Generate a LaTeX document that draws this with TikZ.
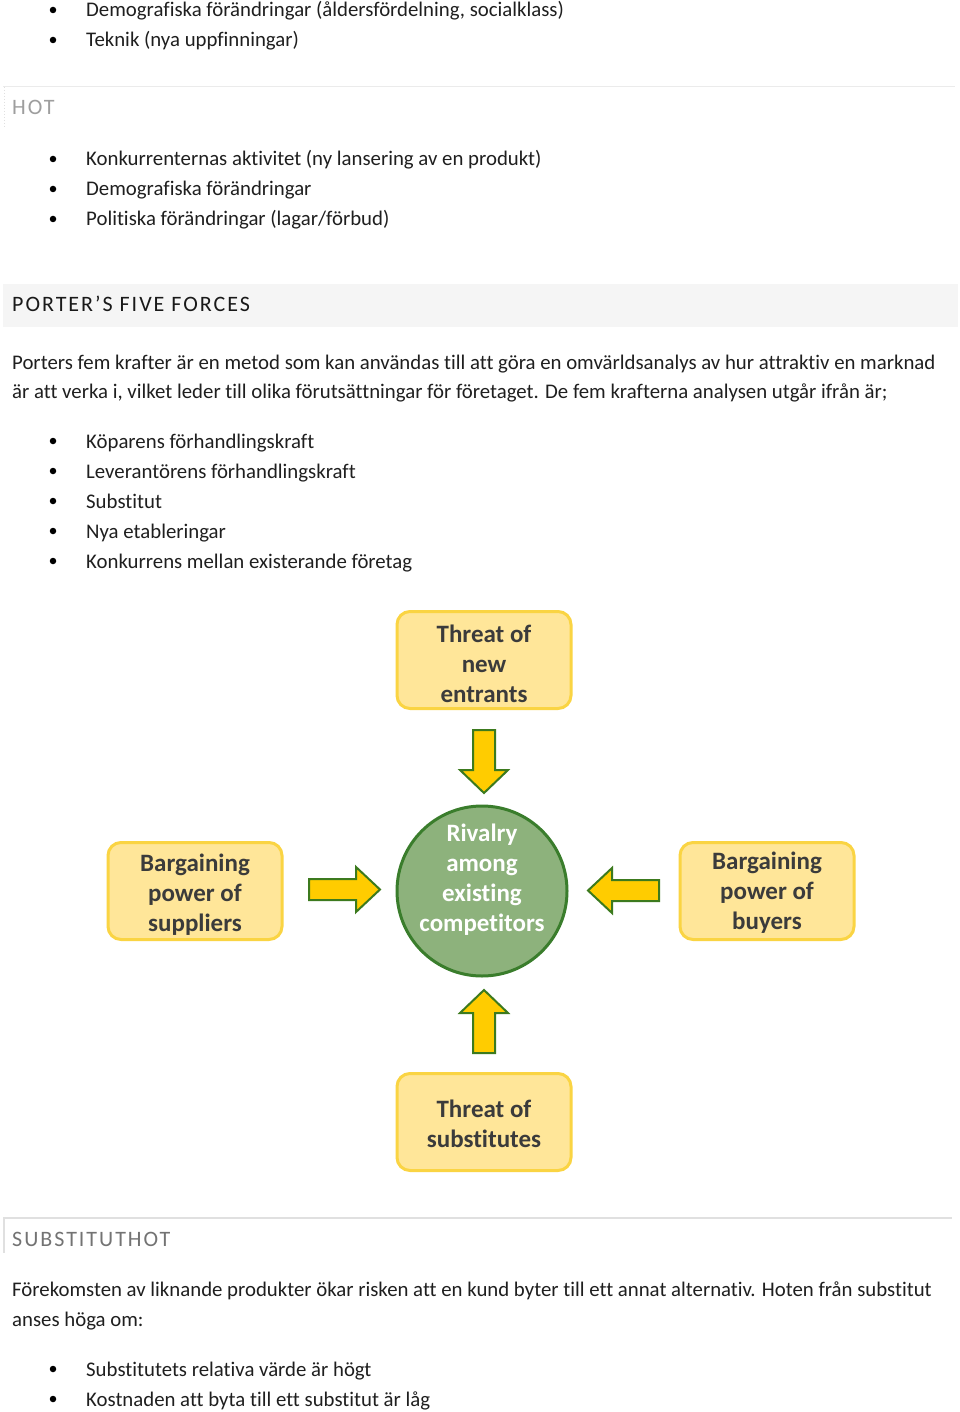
\documentclass[tikz,border=0pt]{standalone}
\usepackage{fontspec}
\setmainfont{Carlito}[Ligatures=NoCommon]
\newfontfamily\headfont[LetterSpace=9]{Carlito}
\definecolor{boxfill}{HTML}{FFE699}
\definecolor{boxline}{HTML}{FAD443}
\definecolor{darktext}{HTML}{3B3B3B}
\definecolor{arrowfill}{HTML}{FFCC00}
\definecolor{arrowline}{HTML}{3C7A1E}
\definecolor{circfill}{HTML}{8DB27C}
\definecolor{circline}{HTML}{3A7D2C}
\begin{document}
\begin{tikzpicture}[x=1pt,y=-1pt,
  body/.style={anchor=base west, inner sep=0pt, font=\fontsize{20.8}{24}\selectfont, text=black!88},
  bul/.style={circle, fill=black, inner sep=0pt, minimum size=6.5pt},
  head/.style={anchor=base west, inner sep=0pt, font=\headfont\fontsize{22}{24}\selectfont},
  force/.style={draw=boxline, line width=3pt, fill=boxfill, rounded corners=13pt, minimum width=174pt, minimum height=97pt, align=center, inner sep=0pt, font=\fontsize{25}{30}\selectfont\bfseries, text=darktext},
  forcetext/.style={align=center, inner sep=0pt, font=\fontsize{25}{30}\selectfont\bfseries, text=darktext},
  rival/.style={circle, draw=circline, line width=3pt, fill=circfill, minimum size=170pt, inner sep=0pt},
  rivtext/.style={align=center, inner sep=0pt, font=\fontsize{25}{30}\selectfont\bfseries, text=white},
  blockarrow/.style={draw=arrowline, line width=2pt, fill=arrowfill, line join=miter}
]
\useasboundingbox (0,0) rectangle (960,1412);
\fill[white] (0,0) rectangle (960,1412);

% top bullets
\node[bul] (b01) at (53,10) {};
\node[body] (t01) at (86,17) {Demografiska förändringar (åldersfördelning, socialklass)};
\node[bul] (b02) at (53,40) {};
\node[body] (t02) at (86,47) {Teknik (nya uppfinningar)};

% HOT heading
\draw[black!8, line width=1pt] (3,87) -- (955,87);
\draw[black!12, line width=1pt, dotted] (4,87) -- (4,127);
\node[head, text=black!38] (hot) at (12,115) {HOT};

\node[bul] (b03) at (53,159) {};
\node[body] (t03) at (86,166) {Konkurrenternas aktivitet (ny lansering av en produkt)};
\node[bul] (b04) at (53,189) {};
\node[body] (t04) at (86,196) {Demografiska förändringar};
\node[bul] (b05) at (53,219) {};
\node[body] (t05) at (86,226) {Politiska förändringar (lagar/förbud)};

% PORTER heading
\fill[black!4] (3,284) rectangle (958,327);
\node[head, text=black!90] (porter) at (12,312) {PORTER’S FIVE FORCES};

\node[body] (p1) at (12,369) {Porters fem krafter är en metod som kan användas till att göra en omvärldsanalys av hur attraktiv en marknad};
\node[body] (p2) at (12,398) {är att verka i, vilket leder till olika förutsättningar för företaget. De fem krafterna analysen utgår ifrån är;};

\node[bul] (b06) at (53,441) {};
\node[body] (t06) at (86,448) {Köparens förhandlingskraft};
\node[bul] (b07) at (53,471) {};
\node[body] (t07) at (86,478) {Leverantörens förhandlingskraft};
\node[bul] (b08) at (53,501) {};
\node[body] (t08) at (86,508) {Substitut};
\node[bul] (b09) at (53,531) {};
\node[body] (t09) at (86,538) {Nya etableringar};
\node[bul] (b10) at (53,561) {};
\node[body] (t10) at (86,568) {Konkurrens mellan existerande företag};

% Five forces diagram
\node[force] (entrants) at (484,660) {};
\node[forcetext] (entrantstext) at (484,664) {Threat of\\new\\entrants};
\node[rival] (rivalry) at (482,891) {};
\node[rivtext] (rivalrytext) at (482,880) {Rivalry\\among\\existing\\competitors};
\node[force] (suppliers) at (195,891) {};
\node[forcetext] (supplierstext) at (195,895) {Bargaining\\power of\\suppliers};
\node[force] (buyers) at (767,891) {};
\node[forcetext] (buyerstext) at (767,893) {Bargaining\\power of\\buyers};
\node[force] (substitutes) at (484,1122) {};
\node[forcetext] (substitutestext) at (484,1124) {Threat of\\substitutes};

% block arrows
\draw[blockarrow] (473,730) -- (495,730) -- (495,770) -- (508,770) -- (484,793) -- (460,770) -- (473,770) -- cycle;
\draw[blockarrow] (473,1053) -- (495,1053) -- (495,1013) -- (508,1013) -- (484,990) -- (460,1013) -- (473,1013) -- cycle;
\draw[blockarrow] (309,879) -- (356,879) -- (356,867) -- (380,889.5) -- (356,912) -- (356,900) -- (309,900) -- cycle;
\draw[blockarrow] (659,880) -- (612,880) -- (612,868) -- (588,890.5) -- (612,913) -- (612,901) -- (659,901) -- cycle;

% SUBSTITUTHOT heading
\draw[black!12, line width=1.2pt] (3,1218) -- (952,1218);
\draw[black!12, line width=1.2pt] (4,1218) -- (4,1253);
\node[head, text=black!55] (subst) at (12,1246) {SUBSTITUTHOT};

\node[body] (p3) at (12,1296) {Förekomsten av liknande produkter ökar risken att en kund byter till ett annat alternativ. Hoten från substitut};
\node[body] (p4) at (12,1326) {anses höga om:};

\node[bul] (b11) at (53,1369) {};
\node[body] (t11) at (86,1376) {Substitutets relativa värde är högt};
\node[bul] (b12) at (53,1399) {};
\node[body] (t12) at (86,1406) {Kostnaden att byta till ett substitut är låg};
\end{tikzpicture}
\end{document}
